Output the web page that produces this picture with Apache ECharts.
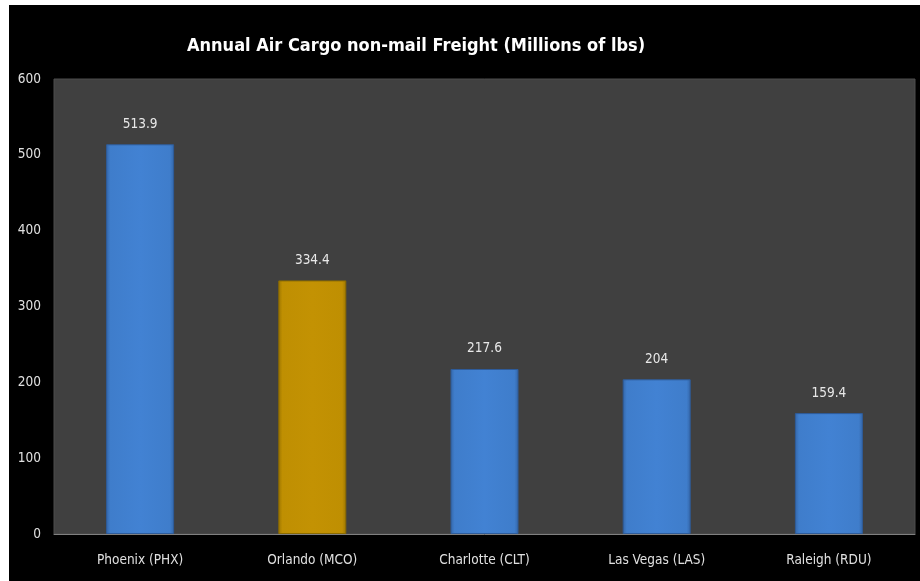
<!DOCTYPE html>
<html><head><meta charset="utf-8">
<script src="https://cdn.jsdelivr.net/npm/echarts@6/dist/echarts.min.js"></script>
<style>html,body{margin:0;padding:0;background:#fff}#c{width:920px;height:581px}</style>
</head><body><div id="c"></div>
<script>
const titleText = 'Annual Air Cargo non-mail Freight (Millions of lbs)';
const categories = ['Phoenix (PHX)', 'Orlando (MCO)', 'Charlotte (CLT)', 'Las Vegas (LAS)', 'Raleigh (RDU)'];
const values = [513.9, 334.4, 217.6, 204, 159.4];
const highlightIndex = 1;
const yTicks = [0, 100, 200, 300, 400, 500, 600];

const FONT = "'Liberation Sans Narrow','DejaVu Sans Condensed',sans-serif";
const blue = new echarts.graphic.LinearGradient(0, 0, 1, 0, [
  {offset: 0, color: '#3466a8'}, {offset: 0.06, color: '#3f7dcb'},
  {offset: 0.5, color: '#4282d3'}, {offset: 0.94, color: '#3f7dcb'}, {offset: 1, color: '#3466a8'}]);
const gold = new echarts.graphic.LinearGradient(0, 0, 1, 0, [
  {offset: 0, color: '#9c7500'}, {offset: 0.06, color: '#bf8f02'},
  {offset: 0.5, color: '#c39203'}, {offset: 0.94, color: '#bf8f02'}, {offset: 1, color: '#9c7500'}]);

const chart = echarts.init(document.getElementById('c'), null, {renderer: 'canvas'});
chart.setOption({
  backgroundColor: '#ffffff',
  animation: false,
  graphic: [{type: 'rect', z: -10, silent: true, shape: {x: 9, y: 5, width: 911, height: 576}, style: {fill: '#000000'}}],
  title: {
    text: titleText, left: 182, top: 32,
    textStyle: {color: '#ffffff', fontFamily: FONT, fontWeight: 'bold', fontSize: 18}
  },
  grid: {left: 54, top: 79, right: 5, bottom: 47, show: true, backgroundColor: '#404040', borderColor: '#4c4c4c', borderWidth: 1},
  xAxis: {
    type: 'category', data: categories,
    axisLine: {show: true, lineStyle: {color: '#808080', width: 1}},
    axisTick: {show: false},
    axisLabel: {color: '#e0e0e0', fontFamily: FONT, fontSize: 13.5, margin: 19}
  },
  yAxis: {
    type: 'value', min: yTicks[0], max: yTicks[yTicks.length - 1], interval: 100,
    axisLine: {show: false}, axisTick: {show: false}, splitLine: {show: false},
    axisLabel: {color: '#e0e0e0', fontFamily: FONT, fontSize: 13.5, margin: 13}
  },
  series: [{
    type: 'bar', barWidth: 68,
    data: values.map((v, i) => ({value: v, itemStyle: {color: i === highlightIndex ? gold : blue,
      borderColor: i === highlightIndex ? '#8a6a00' : '#2e5c9a', borderWidth: 1}})),
    label: {show: true, position: 'top', distance: 13, color: '#e8e8e8', fontFamily: FONT, fontSize: 13.5,
      formatter: p => String(p.value)}
  }]
});
</script></body></html>
